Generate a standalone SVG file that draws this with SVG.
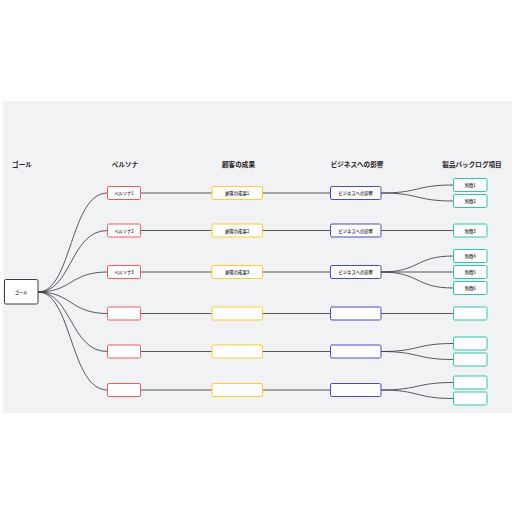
<svg xmlns="http://www.w3.org/2000/svg" width="516" height="516" viewBox="0 0 516 516">
<style>
.h{font-family:"Noto Sans CJK JP","Noto Sans",sans-serif;font-size:6.6px;font-weight:bold;fill:#1f2128;text-anchor:middle}
.t{font-family:"Noto Sans CJK JP","Noto Sans",sans-serif;font-size:4.3px;font-weight:500;fill:#1f2128;text-anchor:middle;dominant-baseline:central}
.b{fill:#fff;stroke-width:1}
.p{stroke:#f05a5a}
.c{stroke:#fbd02c}
.i{stroke:#4b4bc6}
.k{stroke:#2ec6a8}
.g{stroke:#3a3d45}
#connectors path{fill:none;stroke:#3a3d45;stroke-width:0.85}
</style>
<rect x="3" y="101" width="509" height="312" fill="#f1f2f4"/>
<g id="headers">
<text class="h" x="22" y="166.5">ゴール</text>
<text class="h" x="125" y="166.5">ペルソナ</text>
<text class="h" x="238.5" y="167">顧客の成果</text>
<text class="h" x="357" y="166.5">ビジネスへの影響</text>
<text class="h" x="472" y="166.5">製品バックログ項目</text>
</g>
<g id="connectors">
<path d="M38,292 C72,292 70,193 107.5,193"/>
<path d="M38,292 C72,292 70,230.5 107.5,230.5"/>
<path d="M38,292 C72,292 70,272 107.5,272"/>
<path d="M38,292 C72,292 70,313.5 107.5,313.5"/>
<path d="M38,292 C72,292 70,351.5 107.5,351.5"/>
<path d="M38,292 C72,292 70,390 107.5,390"/>
<path d="M140.5,193 H212 M262.5,193 H330.5"/>
<path d="M140.5,230.5 H212 M262.5,230.5 H330.5"/>
<path d="M140.5,272 H212 M262.5,272 H330.5"/>
<path d="M140.5,313.5 H212 M262.5,313.5 H330.5"/>
<path d="M140.5,351.5 H212 M262.5,351.5 H330.5"/>
<path d="M140.5,390 H212 M262.5,390 H330.5"/>
<path d="M381,193 C420,193 415,185 453.5,185"/>
<path d="M381,193 C420,193 415,201 453.5,201"/>
<path d="M381,230.5 H453.5"/>
<path d="M381,272 C420,272 415,256 453.5,256"/>
<path d="M381,272 H453.5"/>
<path d="M381,272 C420,272 415,288 453.5,288"/>
<path d="M381,313.5 H453.5"/>
<path d="M381,351.5 C420,351.5 415,343.5 453.5,343.5"/>
<path d="M381,351.5 C420,351.5 415,359.5 453.5,359.5"/>
<path d="M381,390 C420,390 415,382.5 453.5,382.5"/>
<path d="M381,390 C420,390 415,398.5 453.5,398.5"/>
</g>
<g id="goal"><rect class="b g" x="4.5" y="279.5" width="33.5" height="24.5" rx="1.5"/><text class="t" x="21.2" y="292">ゴール</text></g>
<g id="persona1"><rect class="b p" x="107.5" y="186.5" width="33" height="13" rx="1.5"/><text class="t" x="124" y="193">ペルソナ1</text></g>
<g id="persona2"><rect class="b p" x="107.5" y="224" width="33" height="13" rx="1.5"/><text class="t" x="124" y="230.5">ペルソナ2</text></g>
<g id="persona3"><rect class="b p" x="107.5" y="265.5" width="33" height="13" rx="1.5"/><text class="t" x="124" y="272">ペルソナ3</text></g>
<g id="persona4"><rect class="b p" x="107.5" y="307" width="33" height="13" rx="1.5"/></g>
<g id="persona5"><rect class="b p" x="107.5" y="345" width="33" height="13" rx="1.5"/></g>
<g id="persona6"><rect class="b p" x="107.5" y="383.5" width="33" height="13" rx="1.5"/></g>
<g id="outcome1"><rect class="b c" x="212" y="186.5" width="50.5" height="13" rx="1.5"/><text class="t" x="237.2" y="193">顧客の成果1</text></g>
<g id="outcome2"><rect class="b c" x="212" y="224" width="50.5" height="13" rx="1.5"/><text class="t" x="237.2" y="230.5">顧客の成果2</text></g>
<g id="outcome3"><rect class="b c" x="212" y="265.5" width="50.5" height="13" rx="1.5"/><text class="t" x="237.2" y="272">顧客の成果3</text></g>
<g id="outcome4"><rect class="b c" x="212" y="307" width="50.5" height="13" rx="1.5"/></g>
<g id="outcome5"><rect class="b c" x="212" y="345" width="50.5" height="13" rx="1.5"/></g>
<g id="outcome6"><rect class="b c" x="212" y="383.5" width="50.5" height="13" rx="1.5"/></g>
<g id="impact1"><rect class="b i" x="330.5" y="186.5" width="50.5" height="13" rx="1.5"/><text class="t" x="355.7" y="193">ビジネスへの影響</text></g>
<g id="impact2"><rect class="b i" x="330.5" y="224" width="50.5" height="13" rx="1.5"/><text class="t" x="355.7" y="230.5">ビジネスへの影響</text></g>
<g id="impact3"><rect class="b i" x="330.5" y="265.5" width="50.5" height="13" rx="1.5"/><text class="t" x="355.7" y="272">ビジネスへの影響</text></g>
<g id="impact4"><rect class="b i" x="330.5" y="307" width="50.5" height="13" rx="1.5"/></g>
<g id="impact5"><rect class="b i" x="330.5" y="345" width="50.5" height="13" rx="1.5"/></g>
<g id="impact6"><rect class="b i" x="330.5" y="383.5" width="50.5" height="13" rx="1.5"/></g>
<g id="feature1"><rect class="b k" x="453.5" y="178.5" width="33.5" height="13" rx="1.5"/><text class="t" x="470.2" y="185">特徴1</text></g>
<g id="feature2"><rect class="b k" x="453.5" y="194.5" width="33.5" height="13" rx="1.5"/><text class="t" x="470.2" y="201">特徴2</text></g>
<g id="feature3"><rect class="b k" x="453.5" y="224" width="33.5" height="13" rx="1.5"/><text class="t" x="470.2" y="230.5">特徴3</text></g>
<g id="feature4"><rect class="b k" x="453.5" y="249.5" width="33.5" height="13" rx="1.5"/><text class="t" x="470.2" y="256">特徴4</text></g>
<g id="feature5"><rect class="b k" x="453.5" y="265.5" width="33.5" height="13" rx="1.5"/><text class="t" x="470.2" y="272">特徴5</text></g>
<g id="feature6"><rect class="b k" x="453.5" y="281.5" width="33.5" height="13" rx="1.5"/><text class="t" x="470.2" y="288">特徴6</text></g>
<g id="feature7"><rect class="b k" x="453.5" y="307" width="33.5" height="13" rx="1.5"/></g>
<g id="feature8"><rect class="b k" x="453.5" y="337" width="33.5" height="13" rx="1.5"/></g>
<g id="feature9"><rect class="b k" x="453.5" y="353" width="33.5" height="13" rx="1.5"/></g>
<g id="feature10"><rect class="b k" x="453.5" y="376" width="33.5" height="13" rx="1.5"/></g>
<g id="feature11"><rect class="b k" x="453.5" y="392" width="33.5" height="13" rx="1.5"/></g>
</svg>
